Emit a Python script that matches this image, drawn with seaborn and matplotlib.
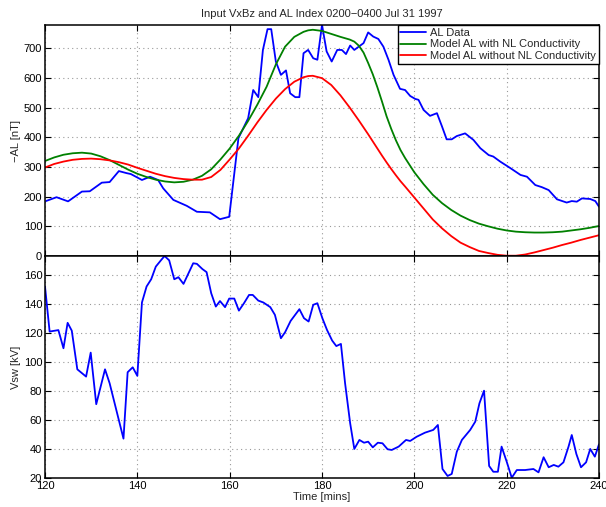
import matplotlib
matplotlib.use("Agg")
import matplotlib.pyplot as plt
import seaborn as sns

# ---------------- data ----------------
al_t = [120.2, 122.5, 125, 128, 129.7, 132.3, 134, 136, 137.7, 138.6, 141, 142.75, 144.5, 145.6,
        147.8, 150.7, 152.9, 155.7, 157.9, 159.9, 161.9, 164, 165.1, 166.2, 167.2, 168.2, 169,
        170, 171.1, 172.2, 173.1, 174.2, 175.1, 176, 177, 178.1, 179, 180, 181, 182.1, 183.3,
        184.3, 185.2, 186.1, 187, 189, 190, 191.1, 192.2, 193.3, 194.4, 195.5, 196.9, 198, 199.1,
        200.2, 200.9, 202, 203.4, 204.9, 206, 207, 208.1, 209.2, 211, 212.8, 214.3, 216.1, 217.1,
        218.6, 220.8, 223, 224.4, 226.2, 227.6, 229.1, 230.9, 233, 234.1, 235.2, 236.3, 238.1,
        239.2, 240]
al_v = [185, 198, 184, 217, 218, 247, 249, 286, 279, 276, 256, 267, 256, 228,
        189, 169, 149, 147, 124, 132, 397, 464, 559, 535, 694, 764, 764,
        655, 610, 625, 548, 535, 535, 683, 694, 666, 661, 778, 689, 655, 694,
        694, 680, 709, 694, 717, 753, 739, 731, 705, 661, 610, 563, 559, 539,
        529, 526, 492, 472, 481, 436, 393, 393, 404, 413, 391, 363, 340, 335,
        318, 296, 273, 267, 239, 232, 222, 191, 180, 185, 183, 194, 192,
        185, 166]

model_t = [120, 122, 124, 126, 128, 130, 132, 134, 136, 138, 140, 142, 144, 146, 148, 150, 152,
           154, 156, 158, 160, 162, 164, 166, 168, 170, 172, 174, 176, 177, 178, 180, 182, 184,
           186, 187, 188, 189, 190, 191, 192, 193, 194, 195, 196, 197, 198, 200, 202, 204, 206,
           208, 210, 212, 214, 216, 218, 220, 222, 224, 226, 228, 230, 232, 234, 236, 238, 240]
green_v = [320, 332, 341, 346, 348, 345, 336, 323, 307, 291, 277, 266, 257, 251, 248, 250, 257,
           270, 292, 325, 362, 405, 455, 510, 570, 645, 705, 738, 755, 760, 762, 758, 748, 738,
           729, 722, 708, 685, 650, 612, 568, 520, 470, 428, 390, 357, 330, 282, 242, 206, 178,
           155, 136, 121, 109, 100, 92, 86, 82, 80, 79, 79, 80, 82, 86, 90, 95, 101]
red_v = [298, 310, 318, 324, 327, 328, 326, 322, 316, 308, 297, 287, 277, 269, 263, 259, 257,
         257, 266, 290, 325, 362, 405, 450, 492, 530, 562, 587, 602, 606, 607, 599, 576, 541,
         500, 478, 456, 433, 410, 386, 362, 338, 315, 293, 272, 252, 234, 197, 160, 123, 93,
         67, 45, 30, 17, 10, 4, 1, 1, 5, 12, 20, 28, 37, 45, 54, 62, 70]

vsw_t = [120, 121, 122.9, 124, 124.9, 125.8, 127, 128.9, 129.9, 131.1, 133, 134, 137, 137.9,
         139, 140, 141, 142, 143, 144, 145.1, 145.9, 146.9, 148, 148.9, 150, 152.1, 152.9,
         154.1, 155, 156, 157, 157.9, 159, 159.9, 161, 162, 163.1, 164.2, 165, 166.2, 167.3,
         168.8, 169.8, 171.1, 172, 173.2, 175.1, 176.1, 177.1, 178.1, 179, 180.1, 181.1, 182.2,
         183.1, 184.1, 185, 186.1, 187, 188.1, 189.1, 190, 191, 192.1, 193.1, 194.2, 195.1,
         196.6, 198.2, 199.1, 200.5, 202.3, 204.1, 205.1, 206.1, 207.2, 208.1, 209.2, 210.3,
         212.1, 213.2, 214.1, 215.1, 216.2, 217.1, 218.1, 218.9, 220, 221.1, 222.2, 224, 225.8,
         226.9, 228, 229.1, 230.2, 231.2, 232.3, 233.4, 234.1, 235.1, 236.1, 237.2, 238.1,
         239.1, 240]
vsw_v = [152, 121, 122, 109.5, 127, 121.6, 95, 90, 106.5, 71, 95, 85.4, 47.3, 93,
         96.4, 90.5, 141, 152, 157, 165.7, 170, 173, 170, 157, 158.4, 153.8, 168, 167.6,
         164, 161.9, 147.4, 138.2, 142, 137.8, 143.7, 143.7, 135.4, 140.5, 146.2, 146.2, 142.3, 141,
         137.8, 132.5, 116.4, 120.5, 128.3, 136.4, 130.2, 127.9, 139.4, 140.5, 130, 122, 114.8,
         111, 112.5, 85.4, 57.9, 40.2, 46.4, 44.5, 45.2, 41.3, 44.5, 44.1, 40, 39.5,
         41.8, 46.4, 45.7, 48.6, 51.4, 53.3, 56.7, 26.4, 21.6, 23, 38.3, 46.4,
         53.3, 59, 71.6, 80.3, 28.5, 24.5, 24.5, 41.8, 31.5, 20.4, 25.7, 25.7, 26.4,
         24.1, 34.5, 27.6, 29.2, 28, 31, 41.8, 49.8, 36.7, 27.6, 31, 40.2,
         34.9, 43.4]

x_ticks = [120, 140, 160, 180, 200, 220, 240]
al_ticks = [0, 100, 200, 300, 400, 500, 600, 700]
vsw_ticks = [20, 40, 60, 80, 100, 120, 140, 160]

title = "Input VxBz and AL Index 0200\u22120400 Jul 31 1997"
labels = ["AL Data", "Model AL with NL Conductivity", "Model AL without NL Conductivity"]

# ---------------- style ----------------
sns.set_theme(style="white")
plt.rcParams["font.family"] = ["Liberation Sans", "DejaVu Sans"]
plt.rcParams["axes.unicode_minus"] = True

fig = plt.figure(figsize=(6.06, 5.07), dpi=100)
left, width = 45 / 606, (599 - 45) / 606
mid = 1 - 256 / 507
top = 1 - 25 / 507
bot = 1 - 478.3 / 507
ax1 = fig.add_axes([left, mid, width, top - mid])
ax2 = fig.add_axes([left, bot, width, mid - bot])

lw = 1.3
sns.lineplot(x=al_t, y=al_v, ax=ax1, color=(0, 0, 1), lw=lw, label=labels[0],
             estimator=None, sort=False)
sns.lineplot(x=model_t, y=green_v, ax=ax1, color=(0, 0.5, 0), lw=lw, label=labels[1],
             estimator=None, sort=False)
sns.lineplot(x=model_t, y=red_v, ax=ax1, color=(1, 0, 0), lw=lw, label=labels[2],
             estimator=None, sort=False)
sns.lineplot(x=vsw_t, y=vsw_v, ax=ax2, color=(0, 0, 1), lw=lw, estimator=None, sort=False)

for ax in (ax1, ax2):
    ax.set_xlim(120, 240)
    ax.set_xticks(x_ticks)
    ax.grid(True, color="#999999", linestyle=(0, (1, 3)), linewidth=0.8)
    ax.tick_params(direction="in", length=4, width=0.8, top=True, right=True,
                   labelsize=8, colors="black", pad=2, bottom=True, left=True)
    for s in ax.spines.values():
        s.set_color("black")
        s.set_linewidth(1.1)
    ax.set_facecolor("white")

ax1.set_ylim(0, 778)
ax1.set_yticks(al_ticks)
ax1.set_xticklabels([])
ax1.set_xlabel("")
ax1.set_ylabel("\u2212AL [nT]", fontsize=8, labelpad=2)
ax1.set_title(title, fontsize=8, pad=6)

ax2.set_ylim(20, 173)
ax2.set_yticks(vsw_ticks)
ax2.set_xlabel("Time [mins]", fontsize=8, labelpad=1)
ax2.set_ylabel("Vsw [kV]", fontsize=8, labelpad=2)

leg = ax1.legend(loc="upper right", fontsize=8, frameon=True, fancybox=False,
                 borderaxespad=0, handlelength=2.3, handletextpad=0.4,
                 borderpad=0.25, labelspacing=0.15, framealpha=1)
leg.get_frame().set_edgecolor("black")
leg.get_frame().set_linewidth(1.0)

fig.savefig("out.png", dpi=100)
